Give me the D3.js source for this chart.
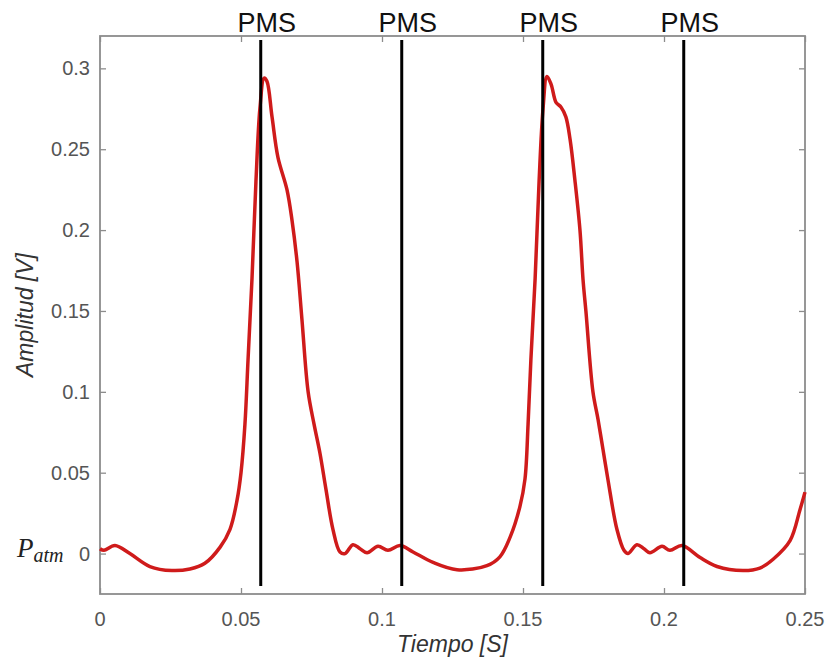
<!DOCTYPE html>
<html lang="es">
<head>
  <title>Amplitud vs Tiempo</title>
  <meta charset="utf-8">
  <script src="https://d3js.org/d3.v7.min.js" charset="utf-8"></script>
  <style>
    body { margin: 0; background: #fff; }
    .tick-label { font-family: "Liberation Sans", Arial, sans-serif; font-size: 20px; fill: #555; }
    .axis-title { font-family: "Liberation Sans", Arial, sans-serif; font-size: 23px; font-style: italic; fill: #333; }
    .pms { font-family: "Liberation Sans", Arial, sans-serif; font-size: 27px; fill: #111; }
  </style>
</head>
<body>
  <script>
    // data
    var tiempo = [0, 0.0014, 0.0053, 0.0106, 0.0177, 0.0255, 0.0319, 0.0372, 0.0426, 0.0461,
      0.0486, 0.05, 0.0514, 0.0525, 0.0539, 0.0553, 0.0567, 0.0582, 0.0592, 0.061,
      0.0631, 0.0663, 0.0681, 0.0699, 0.0716, 0.0738, 0.0759, 0.078, 0.0801, 0.0826,
      0.0851, 0.0869, 0.0897, 0.0922, 0.0947, 0.0986, 0.1021, 0.1064, 0.111, 0.1181,
      0.1266, 0.1372, 0.1418, 0.1454, 0.1489, 0.1507, 0.1518, 0.1528, 0.1543, 0.1557,
      0.1571, 0.1585, 0.16, 0.1617, 0.1635, 0.1652, 0.1667, 0.1684, 0.1702, 0.1713,
      0.1723, 0.1748, 0.1766, 0.1784, 0.1801, 0.1833, 0.1858, 0.1872, 0.1904, 0.1929,
      0.195, 0.1993, 0.2021, 0.2064, 0.2128, 0.2188, 0.228, 0.234, 0.2387, 0.2447,
      0.2482, 0.25];
    var amplitud = [0.003, 0.002, 0.005, 0.0, -0.008, -0.0105, -0.0095, -0.006, 0.004, 0.015,
      0.033, 0.05, 0.08, 0.12, 0.17, 0.23, 0.275, 0.294, 0.292, 0.27,
      0.245, 0.225, 0.206, 0.18, 0.145, 0.1, 0.08, 0.062, 0.04, 0.015,
      0.001, 0.0, 0.0055, 0.003, 0.0005, 0.0045, 0.002, 0.005, 0.001, -0.0055,
      -0.010, -0.0075, -0.002, 0.010, 0.029, 0.046, 0.08, 0.12, 0.17, 0.23,
      0.275, 0.295, 0.29, 0.279, 0.276, 0.27, 0.256, 0.231, 0.2, 0.169,
      0.15, 0.1, 0.083, 0.064, 0.046, 0.015, 0.002, 0.0, 0.0055, 0.003,
      0.0005, 0.0045, 0.002, 0.005, -0.0025, -0.008, -0.0105, -0.009, -0.0035, 0.008,
      0.027, 0.038];

    var pmsTimes = [0.057, 0.107, 0.157, 0.207];
    var pmsLabels = ["PMS", "PMS", "PMS", "PMS"];
    var xTicks = [0, 0.05, 0.1, 0.15, 0.2, 0.25];
    var xTickLabels = ["0", "0.05", "0.1", "0.15", "0.2", "0.25"];
    var yTicks = [0, 0.05, 0.1, 0.15, 0.2, 0.25, 0.3];
    var yTickLabels = ["0", "0.05", "0.1", "0.15", "0.2", "0.25", "0.3"];

    var width = 830;
    var height = 663;
    // plot box edges (note: "top" is taken by window.top, so prefix them)
    var boxLeft = 100, boxRight = 805, boxTop = 36, boxBottom = 594;

    var svg = d3.select("body")
      .append("svg")
      .attr("width", width)
      .attr("height", height);

    var x = d3.scaleLinear().domain([0, 0.25]).range([boxLeft, boxRight]);
    var y = d3.scaleLinear().domain([-0.025, 0.32]).range([boxBottom, boxTop]);

    // box with inward ticks on all four sides (matlab style)
    var tickLen = 6;
    var axisColor = "#8c8c8c";

    function styleAxis(g) {
      g.select(".domain").remove();
      g.selectAll("line").attr("stroke", axisColor).attr("stroke-width", 1.3);
    }

    svg.append("g")
      .attr("transform", "translate(0," + boxBottom + ")")
      .call(d3.axisBottom(x).tickValues(xTicks).tickSizeInner(-tickLen).tickSizeOuter(0).tickFormat(""))
      .call(styleAxis);
    svg.append("g")
      .attr("transform", "translate(0," + boxTop + ")")
      .call(d3.axisTop(x).tickValues(xTicks).tickSizeInner(-tickLen).tickSizeOuter(0).tickFormat(""))
      .call(styleAxis);
    svg.append("g")
      .attr("transform", "translate(" + boxLeft + ",0)")
      .call(d3.axisLeft(y).tickValues(yTicks).tickSizeInner(-tickLen).tickSizeOuter(0).tickFormat(""))
      .call(styleAxis);
    svg.append("g")
      .attr("transform", "translate(" + boxRight + ",0)")
      .call(d3.axisRight(y).tickValues(yTicks).tickSizeInner(-tickLen).tickSizeOuter(0).tickFormat(""))
      .call(styleAxis);

    svg.append("rect")
      .attr("x", boxLeft)
      .attr("y", boxTop)
      .attr("width", boxRight - boxLeft)
      .attr("height", boxBottom - boxTop)
      .attr("fill", "none")
      .attr("stroke", axisColor)
      .attr("stroke-width", 1.8);

    // tick labels
    svg.selectAll(".xlab")
      .data(xTicks)
      .enter()
      .append("text")
      .attr("class", "tick-label")
      .attr("x", function(d) { return x(d); })
      .attr("y", boxBottom + 32)
      .attr("text-anchor", "middle")
      .text(function(d, i) { return xTickLabels[i]; });

    svg.selectAll(".ylab")
      .data(yTicks)
      .enter()
      .append("text")
      .attr("class", "tick-label")
      .attr("x", boxLeft - 10)
      .attr("y", function(d) { return y(d) + 7; })
      .attr("text-anchor", "end")
      .text(function(d, i) { return yTickLabels[i]; });

    // axis titles
    svg.append("text")
      .attr("class", "axis-title")
      .attr("x", (boxLeft + boxRight) / 2)
      .attr("y", 652)
      .attr("text-anchor", "middle")
      .text("Tiempo [S]");

    svg.append("text")
      .attr("class", "axis-title")
      .attr("transform", "translate(33," + ((boxTop + boxBottom) / 2) + ") rotate(-90)")
      .attr("text-anchor", "middle")
      .text("Amplitud [V]");

    // P_atm label next to zero
    var patm = svg.append("text")
      .attr("x", 17)
      .attr("y", y(0) + 3)
      .attr("font-family", "'Liberation Serif', 'DejaVu Serif', serif")
      .attr("font-style", "italic")
      .attr("fill", "#222");
    patm.append("tspan").attr("font-size", 27).text("P");
    patm.append("tspan").attr("font-size", 20).attr("dy", 5).text("atm");

    // signal
    var line = d3.line()
      .x(function(d, i) { return x(tiempo[i]); })
      .y(function(d) { return y(d); })
      .curve(d3.curveCatmullRom.alpha(0.5));

    svg.append("path")
      .datum(amplitud)
      .attr("fill", "none")
      .attr("stroke", "#cf1b1b")
      .attr("stroke-width", 3.5)
      .attr("stroke-linejoin", "round")
      .attr("d", line);

    // PMS markers
    svg.selectAll(".pms-line")
      .data(pmsTimes)
      .enter()
      .append("line")
      .attr("x1", function(d) { return x(d); })
      .attr("x2", function(d) { return x(d); })
      .attr("y1", y(0.3176))
      .attr("y2", y(-0.02))
      .attr("stroke", "#000")
      .attr("stroke-width", 3);

    svg.selectAll(".pms")
      .data(pmsTimes)
      .enter()
      .append("text")
      .attr("class", "pms")
      .attr("x", function(d) { return x(d) + 6; })
      .attr("y", 32)
      .attr("text-anchor", "middle")
      .text(function(d, i) { return pmsLabels[i]; });
  </script>
</body>
</html>
